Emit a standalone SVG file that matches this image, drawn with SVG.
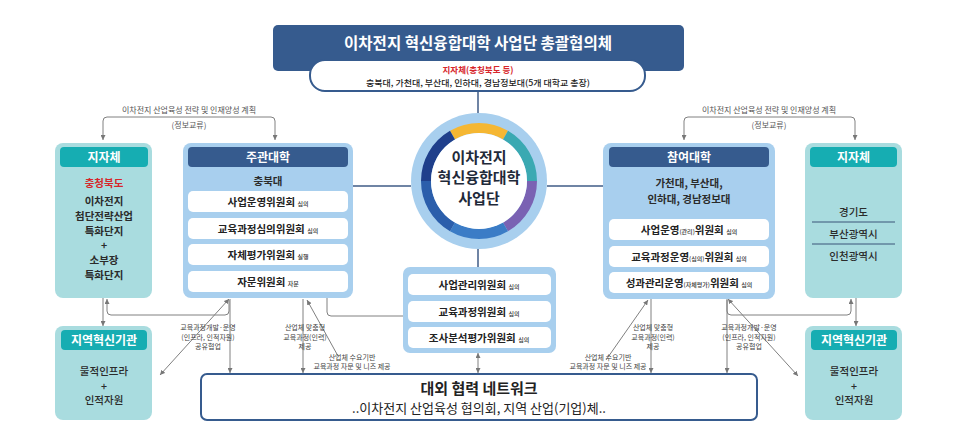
<svg xmlns="http://www.w3.org/2000/svg" width="958" height="447" viewBox="0 0 958 447">
<defs>
<style>
text{font-family:"Noto Sans CJK KR","Noto Sans",sans-serif;text-anchor:middle}
.lb{fill:#a8cfee}
.lt{fill:#a9dcdf}
.hd{fill:#365b8e}
.ht{fill:#16adb2}
.row{fill:#ffffff}
.hdt{font-size:12px;font-weight:700;fill:#ffffff}
.bt{font-size:10.5px;font-weight:700;fill:#2b2b2b}
.mt{font-size:10.5px;font-weight:500;fill:#2b2b2b}
.rt{font-size:10.5px;font-weight:700;fill:#222222}
.sm{font-size:6px;font-weight:500;fill:#333333}
.red{fill:#d7262b}
.lab{font-size:7px;fill:#444444}
.br{font-size:8px;fill:#555555}
.dk{stroke:#3f5b86;stroke-width:1.5;fill:none}
.gr{stroke:#808080;stroke-width:1;fill:none}
</style>
<marker id="ar" viewBox="0 0 6 6" refX="6" refY="3" markerWidth="5" markerHeight="5" orient="auto-start-reverse" markerUnits="userSpaceOnUse">
<path d="M0,0 L6,3 L0,6 z" fill="#777777"/>
</marker>
</defs>
<rect width="958" height="447" fill="#ffffff"/>

<g id="connectors">
<line class="dk" x1="478" y1="91" x2="478" y2="113"/>
<line class="dk" x1="353" y1="186" x2="411" y2="186"/>
<line class="dk" x1="547" y1="186" x2="603" y2="186"/>
<line class="dk" x1="478" y1="249" x2="478" y2="267"/>
<path class="gr" d="M327,298 V312 Q327,316 331,316 H403" stroke="#5a6a80"/>
<path class="gr" d="M103,140 V121 Q103,117 107,117 H271 Q275,117 275,121 V140" marker-start="url(#ar)" marker-end="url(#ar)"/>
<path class="gr" d="M684,140 V121 Q684,117 688,117 H851 Q855,117 855,121 V140" marker-start="url(#ar)" marker-end="url(#ar)"/>
<line class="gr" x1="103" y1="298" x2="103" y2="326" marker-end="url(#ar)"/>
<path class="gr" d="M229,300 V311 Q229,315 225,315 H111 Q107,315 107,311 V299" marker-end="url(#ar)"/>
<line class="gr" x1="230" y1="299" x2="230" y2="373" marker-end="url(#ar)"/>
<line class="gr" x1="229" y1="299" x2="160" y2="375" marker-start="url(#ar)" marker-end="url(#ar)"/>
<line class="gr" x1="303" y1="299" x2="303" y2="373" marker-end="url(#ar)"/>
<line class="gr" x1="307" y1="300" x2="338" y2="356" marker-start="url(#ar)"/>
<line class="gr" x1="478" y1="353" x2="478" y2="373" marker-start="url(#ar)" marker-end="url(#ar)"/>
<line class="gr" x1="648" y1="300" x2="606" y2="360" marker-start="url(#ar)"/>
<line class="gr" x1="651" y1="299" x2="651" y2="373" marker-end="url(#ar)"/>
<line class="gr" x1="727" y1="299" x2="727" y2="373" marker-end="url(#ar)"/>
<path class="gr" d="M727,300 V311 Q727,315 731,315 H847 Q851,315 851,311 V299" marker-end="url(#ar)"/>
<line class="gr" x1="856" y1="298" x2="856" y2="326" marker-end="url(#ar)"/>
<line class="gr" x1="728" y1="299" x2="798" y2="376" marker-start="url(#ar)" marker-end="url(#ar)"/>
</g>

<g id="bracket-labels">
<text class="br" x="189" y="113">이차전지 산업육성 전략 및 인재양성 계획</text>
<text class="br" x="189" y="128">(정보교류)</text>
<text class="br" x="769" y="113">이차전지 산업육성 전략 및 인재양성 계획</text>
<text class="br" x="769" y="128">(정보교류)</text>
</g>

<g id="edge-labels">
<text class="lab" x="208" y="330">교육과정개발·운영</text>
<text class="lab" x="208" y="339.5">(인프라, 인적자원)</text>
<text class="lab" x="208" y="349">공유협업</text>
<text class="lab" x="305" y="330">산업체 맞춤형</text>
<text class="lab" x="305" y="339.5">교육과정(인력)</text>
<text class="lab" x="305" y="349">제공</text>
<text class="lab" x="352" y="359.5">산업체 수요기반</text>
<text class="lab" x="352" y="369">교육과정 자문 및 니즈 제공</text>
<text class="lab" x="608" y="359.5">산업체 수요기반</text>
<text class="lab" x="608" y="369">교육과정 자문 및 니즈 제공</text>
<text class="lab" x="653" y="330">산업체 맞춤형</text>
<text class="lab" x="653" y="339.5">교육과정(인력)</text>
<text class="lab" x="653" y="349">제공</text>
<text class="lab" x="749" y="330">교육과정개발·운영</text>
<text class="lab" x="749" y="339.5">(인프라, 인적자원)</text>
<text class="lab" x="749" y="349">공유협업</text>
</g>

<g id="council">
<rect x="273" y="25" width="411" height="46" rx="5" fill="#365b8e"/>
<text x="478" y="49" font-size="15.5" font-weight="700" fill="#ffffff" textLength="268" lengthAdjust="spacingAndGlyphs">이차전지 혁신융합대학 사업단 총괄협의체</text>
<rect x="310" y="60" width="335" height="31" rx="15" fill="#ffffff" stroke="#365b8e" stroke-width="2"/>
<text x="478" y="73" font-size="8.5" font-weight="700" class="red">지자체(충청북도 등)</text>
<text x="478" y="86" font-size="8.5" font-weight="500" fill="#222222" textLength="224" lengthAdjust="spacingAndGlyphs">충북대, 가천대, 부산대, 인하대, 경남정보대(5개 대학교 총장)</text>
</g>

<g id="center-hub">
<circle cx="479" cy="181" r="68" fill="#a8cfee"/>
<g fill="none" stroke-width="10">
<path d="M452.5,135.1 A53,53 0 0 1 505.5,135.1" stroke="#f5b733"/>
<path d="M505.5,135.1 A53,53 0 0 1 532,181" stroke="#3aa9b2"/>
<path d="M532,181 A53,53 0 0 1 505.5,226.9" stroke="#7a62b3"/>
<path d="M505.5,226.9 A53,53 0 0 1 452.5,226.9" stroke="#3b7cc6"/>
<path d="M452.5,226.9 A53,53 0 0 1 426,181" stroke="#2b5eab"/>
<path d="M426,181 A53,53 0 0 1 452.5,135.1" stroke="#1f3f8b"/>
</g>
<circle cx="479" cy="181" r="48" fill="#ffffff"/>
<text x="479" y="163" font-size="15" font-weight="700" fill="#1f2a3a">이차전지</text>
<text x="479" y="183" font-size="15" font-weight="700" fill="#1f2a3a">혁신융합대학</text>
<text x="479" y="204" font-size="15" font-weight="700" fill="#1f2a3a">사업단</text>
</g>

<g id="local-gov-left">
<rect x="55" y="143" width="97" height="155" rx="8" class="lt"/>
<rect x="60" y="147" width="88" height="20" rx="4" class="ht"/>
<text class="hdt" x="104" y="161.5">지자체</text>
<text class="bt red" x="104" y="187">충청북도</text>
<text class="bt" x="104" y="205" font-size="10">이차전지</text>
<text class="bt" x="104" y="220" font-size="10">첨단전략산업</text>
<text class="bt" x="104" y="235" font-size="10">특화단지</text>
<text class="bt" x="104" y="248.5" font-size="9">+</text>
<text class="bt" x="104" y="263.5" font-size="10">소부장</text>
<text class="bt" x="104" y="278.5" font-size="10">특화단지</text>
</g>

<g id="lead-univ">
<rect x="183" y="143" width="170" height="155" rx="8" class="lb"/>
<rect x="188" y="147" width="160" height="20" rx="4" class="hd"/>
<text class="hdt" x="268" y="161.5">주관대학</text>
<text class="bt" x="268" y="185" font-size="10">충북대</text>
<rect x="188" y="191" width="160" height="21" rx="5" class="row"/>
<rect x="188" y="218" width="160" height="21" rx="5" class="row"/>
<rect x="188" y="244" width="160" height="21" rx="5" class="row"/>
<rect x="188" y="271" width="160" height="21" rx="5" class="row"/>
<text class="rt" x="268" y="205.5">사업운영위원회 <tspan class="sm">심의</tspan></text>
<text class="rt" x="268" y="232.5">교육과정심의위원회 <tspan class="sm">심의</tspan></text>
<text class="rt" x="268" y="258.5">자체평가위원회 <tspan class="sm">실행</tspan></text>
<text class="rt" x="268" y="285.5">자문위원회 <tspan class="sm">자문</tspan></text>
</g>

<g id="hub-committees">
<rect x="403" y="267" width="153" height="86" rx="7" class="lb"/>
<rect x="408" y="274" width="143" height="21" rx="5" class="row"/>
<rect x="408" y="301" width="143" height="21" rx="5" class="row"/>
<rect x="408" y="327" width="143" height="21" rx="5" class="row"/>
<text class="rt" x="479" y="288.5" font-size="10">사업관리위원회 <tspan class="sm">심의</tspan></text>
<text class="rt" x="479" y="315.5" font-size="10">교육과정위원회 <tspan class="sm">심의</tspan></text>
<text class="rt" x="479" y="341.5" font-size="10">조사분석평가위원회 <tspan class="sm">심의</tspan></text>
</g>

<g id="partner-univ">
<rect x="603" y="143" width="172" height="156" rx="8" class="lb"/>
<rect x="609" y="147" width="160" height="20" rx="4" class="hd"/>
<text class="hdt" x="689" y="161.5">참여대학</text>
<text class="bt" x="689" y="187">가천대, 부산대,</text>
<text class="bt" x="689" y="203">인하대, 경남정보대</text>
<rect x="609" y="219" width="160" height="21" rx="5" class="row"/>
<rect x="609" y="246" width="160" height="21" rx="5" class="row"/>
<rect x="609" y="272" width="160" height="21" rx="5" class="row"/>
<text class="rt" x="689" y="233.5">사업운영<tspan class="sm">(관리)</tspan>위원회 <tspan class="sm">심의</tspan></text>
<text class="rt" x="689" y="260.5">교육과정운영<tspan class="sm">(심의)</tspan>위원회 <tspan class="sm">심의</tspan></text>
<text class="rt" x="689" y="286.5">성과관리운영<tspan class="sm">(자체평가)</tspan>위원회 <tspan class="sm">심의</tspan></text>
</g>

<g id="local-gov-right">
<rect x="805" y="143" width="97" height="155" rx="8" class="lt"/>
<rect x="810" y="147" width="87" height="20" rx="4" class="ht"/>
<text class="hdt" x="853.5" y="161.5">지자체</text>
<text class="mt" x="853.5" y="216">경기도</text>
<line x1="812" y1="222" x2="895" y2="222" stroke="#3a5478" stroke-width="1"/>
<text class="mt" x="853.5" y="238">부산광역시</text>
<line x1="812" y1="244" x2="895" y2="244" stroke="#3a5478" stroke-width="1"/>
<text class="mt" x="853.5" y="260">인천광역시</text>
</g>

<g id="innovation-left">
<rect x="55" y="326" width="97" height="94" rx="8" class="lt"/>
<rect x="61" y="330" width="86" height="20" rx="4" class="ht"/>
<text class="hdt" x="104" y="344.5">지역혁신기관</text>
<text class="mt" x="104" y="375" font-size="10">물적인프라</text>
<text class="mt" x="104" y="389.5" font-size="9">+</text>
<text class="mt" x="104" y="404" font-size="10">인적자원</text>
</g>

<g id="innovation-right">
<rect x="805" y="326" width="97" height="94" rx="8" class="lt"/>
<rect x="811" y="330" width="86" height="20" rx="4" class="ht"/>
<text class="hdt" x="854" y="344.5">지역혁신기관</text>
<text class="mt" x="854" y="375" font-size="10">물적인프라</text>
<text class="mt" x="854" y="389.5" font-size="9">+</text>
<text class="mt" x="854" y="404" font-size="10">인적자원</text>
</g>

<g id="network">
<rect x="201" y="374" width="556" height="46" rx="6" fill="#ffffff" stroke="#365b8e" stroke-width="2"/>
<text x="479" y="394" font-size="15" font-weight="700" fill="#222222">대외 협력 네트워크</text>
<text x="479" y="413" font-size="13" font-weight="400" fill="#222222">..이차전지 산업육성 협의회, 지역 산업(기업)체..</text>
</g>
</svg>
